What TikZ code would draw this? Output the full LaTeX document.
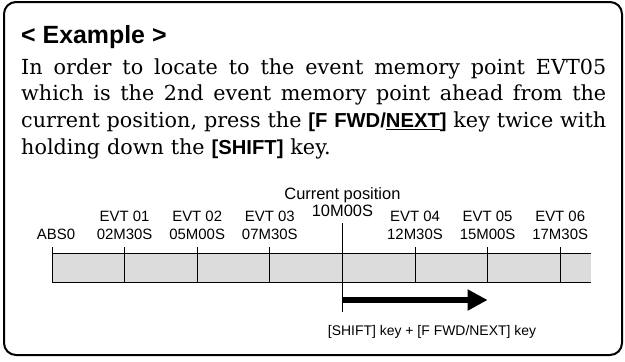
\documentclass[tikz,border=0pt]{standalone}
\usepackage{fontspec}
\setmainfont{DejaVu Serif}
\setsansfont{Liberation Sans}
\usetikzlibrary{calc, positioning, arrows.meta}
\definecolor{barfill}{RGB}{220,220,220}
\tikzset{
  lbl/.style = {font=\sffamily\fontsize{15}{18}\selectfont, inner sep=0pt, align=center},
  rule/.style = {line width=1bp},
  keyname/.style = {font=\sffamily\fontsize{14}{16}\selectfont, inner sep=0pt}
}
\newcommand{\keyb}[1]{{\sffamily\bfseries\fontsize{20.3}{27}\selectfont #1}}
\newcommand{\fullline}[1]{{\spaceskip=.3em plus 1fil minus .05em\makebox[585bp][s]{#1}}}

\begin{document}
\begin{tikzpicture}[x=1bp, y=-1bp]
  \useasboundingbox (0,0) rectangle (625,361);
  \draw[line width=2bp, rounded corners=12bp] (4,2) rectangle (622,355);

  \node[anchor=base west, inner sep=0pt, font=\sffamily\bfseries\fontsize{25}{28}\selectfont] (head) at (21,43) {< Example >};
  \node[anchor=base west, inner sep=0pt, text width=585bp, align=left, font=\fontsize{20.8}{27}\selectfont] (body) at (21,74)
    {\fullline{In order to locate to the event memory point EVT05}\\
     \fullline{which is the 2nd event memory point ahead from the}\\
     \fullline{current position, press the \keyb{[F FWD/\underline{NEXT}]} key twice with}\\
     holding down the \keyb{[SHIFT]} key.};

  \fill[barfill] (52,253) rectangle (591,282);
  \draw[rule] (591,253) -- (52,253) -- (52,247) (52,253) -- (52,282) -- (591,282);
  \node[lbl, anchor=south] (abs) at (56,240) {ABS0};

  \foreach \i/\x/\ev/\tm in {1/124.6/EVT 01/02M30S, 2/197.2/EVT 02/05M00S, 3/269.8/EVT 03/07M30S,
                            4/415/EVT 04/12M30S, 5/487.6/EVT 05/15M00S, 6/560.2/EVT 06/17M30S} {
    \node[lbl, anchor=south] (evt\i) at (\x,240) {\ev\\\tm};
    \coordinate (t\i) at (\x,247);
    \draw[rule] (t\i) -- (\x,282);
  }

  \node[lbl, font=\sffamily\fontsize{16.5}{18}\selectfont, anchor=base] (curtime) at (342.4,216) {10M00S};
  \node[lbl, font=\sffamily\fontsize{16.5}{18}\selectfont, anchor=base] (curpos) at (342.4,199) {Current position};
  \coordinate (cur) at (342.4,223);
  \coordinate (curend) at (342.4,312);
  \draw[rule] (cur) -- (curend);

  \draw[line width=6bp, -{Triangle[length=20bp, width=20bp]}] ($(cur)+(0,77)$) -- (t5 |- 0,300);
  \node[keyname, anchor=base] (press) at (432,335) {[SHIFT] key + [F FWD/NEXT] key};
\end{tikzpicture}
\end{document}
